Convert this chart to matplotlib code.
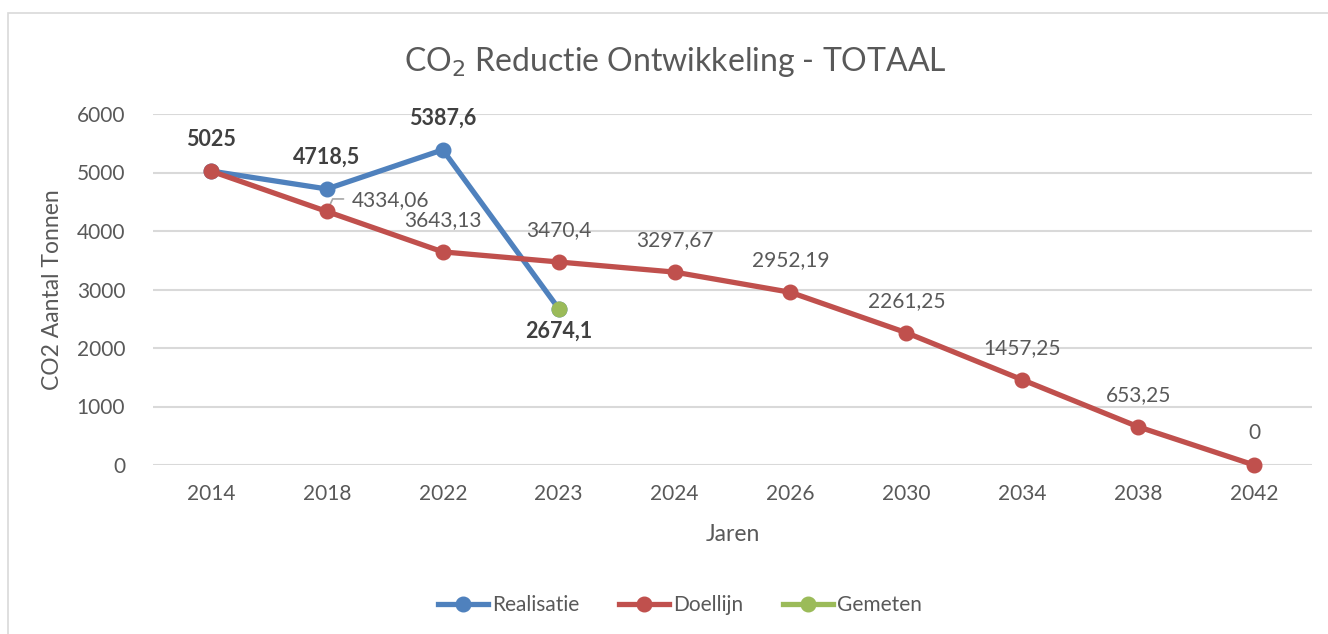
import matplotlib

matplotlib.use("Agg")

import matplotlib.pyplot as plt
from matplotlib.patches import Rectangle

plt.rcParams["font.family"] = ["Lato", "DejaVu Sans"]

years = ["2014", "2018", "2022", "2023", "2024", "2026", "2030", "2034", "2038", "2042"]
realisatie = [5025, 4718.5, 5387.6, 2674.1]
doellijn = [5025, 4334.06, 3643.13, 3470.4, 3297.67, 2952.19, 2261.25, 1457.25, 653.25, 0]
gemeten_idx = 3
gemeten = [2674.1]

BLUE = "#4f81bd"
RED = "#c0504d"
GREEN = "#9bbb59"
TEXT = "#595959"
GRID = "#d9d9d9"


def fmt(v):
    s = f"{v:.2f}".rstrip("0").rstrip(".")
    return s.replace(".", ",")


fig = plt.figure(figsize=(13.28, 6.34), dpi=100)
fig.patches.append(Rectangle((8 / 1328, -0.1), 1.2, 1 - 13 / 634 + 0.1, transform=fig.transFigure,
                             fill=False, edgecolor=GRID, linewidth=1.2))
ax = fig.add_axes([153 / 1328, 1 - 465 / 634, (1312 - 153) / 1328, (465 - 114) / 634])

x = list(range(len(years)))
style = dict(lw=3.8, marker="o", ms=10.5, clip_on=False)
ax.plot(x[:len(realisatie)], realisatie, color=BLUE, label="Realisatie", zorder=3, **style)
ax.plot(x, doellijn, color=RED, label="Doellijn", zorder=4, **style)
ax.plot([x[gemeten_idx]], gemeten, color=GREEN, label="Gemeten", zorder=5, **style)

ax.set_xlim(-0.5, len(years) - 0.5)
ax.set_ylim(0, 6000)
ax.set_yticks(range(0, 6001, 1000))
ax.set_xticks(x)
ax.set_xticklabels(years)
ax.grid(axis="y", color=GRID, lw=1.5)
ax.set_axisbelow(True)
for sp in ax.spines.values():
    sp.set_visible(False)
ax.tick_params(length=0, labelsize=15, colors=TEXT, pad=14)
ax.tick_params(axis="y", pad=20)

ax.set_xlabel("Jaren", fontsize=16.5, color=TEXT, labelpad=14)
ax.set_ylabel("CO2 Aantal Tonnen", fontsize=16.5, color=TEXT, labelpad=10)
fig.text(675 / 1328, 1 - 62 / 634, "CO$_2$ Reductie Ontwikkeling - TOTAAL", ha="center", va="center",
         fontsize=23, color=TEXT)

# labels Realisatie (bold, above)
for i, v in enumerate(realisatie[:3]):
    ax.annotate(fmt(v), (x[i], v), xytext=(0, 23), textcoords="offset points", ha="center",
                va="center", fontsize=15.5, fontweight="bold", color="#404040")
ax.annotate(fmt(gemeten[0]), (x[gemeten_idx], gemeten[0]), xytext=(0, -16), textcoords="offset points",
            ha="center", va="center", fontsize=15.5, fontweight="bold", color="#404040")

# labels Doellijn
for i, v in enumerate(doellijn):
    if i == 0:
        continue
    if i == 1:
        ax.annotate(fmt(v), (x[i], v), xytext=(18, 8), textcoords="offset points", ha="left",
                    va="center", fontsize=15, color=TEXT)
        ax.annotate("", (x[i], v), xytext=(12, 9), textcoords="offset points",
                    arrowprops=dict(arrowstyle="-", color="#a6a6a6", lw=1.2, shrinkA=0, shrinkB=5,
                                    connectionstyle="angle,angleA=0,angleB=65,rad=0"))
        continue
    ax.annotate(fmt(v), (x[i], v), xytext=(0, 23), textcoords="offset points", ha="center",
                va="center", fontsize=15, color=TEXT)

fig.legend(loc="center", bbox_to_anchor=(680 / 1328, 1 - 605 / 634), ncol=3, frameon=False, fontsize=15,
           labelcolor=TEXT, handlelength=2.4, handletextpad=0.2, columnspacing=1.9)

fig.savefig("out.png", dpi=100)
